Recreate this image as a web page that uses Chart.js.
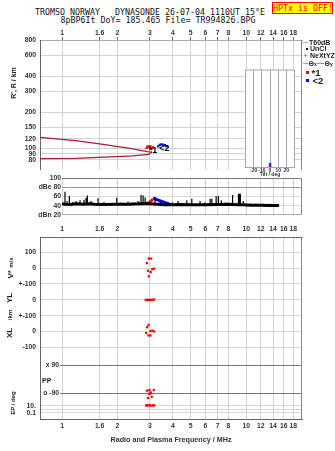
<!DOCTYPE html>
<html>
<head>
<meta charset="utf-8">
<script src="https://cdn.jsdelivr.net/npm/chart.js@4.4.1/dist/chart.umd.min.js"></script>
<style>
body { margin: 0; background: #fff; }
#page { position: relative; width: 335px; height: 451px; overflow: hidden; font-family: 'Liberation Sans', Arial, sans-serif; color: #222; }
canvas { position: absolute; }
.t { position: absolute; white-space: pre; line-height: 1; }
.mono { font-family: 'DejaVu Sans Mono', monospace; font-size: 8.3px; color: #111; }
.lg { font-size: 7px; font-weight: bold; }
.rot { position: absolute; white-space: nowrap; line-height: 1; font-weight: bold; transform: translate(-50%, -50%) rotate(-90deg); }
.box { position: absolute; }
</style>
</head>
<body>
<div id="page">
  <div class="t mono" style="left:0;width:300px;text-align:center;top:8.2px">TROMSO NORWAY   DYNASONDE 26-07-04 1110UT 15°E</div>
  <div class="t mono" style="left:0;width:316px;text-align:center;top:15.8px">8pBP6It DoY= 185.465 File= TR994826.BPG</div>
  <div class="t mono" style="left:272px;top:2px;width:59px;height:10px;background:#ffff00;border:1px solid #ff0000;color:#ff0000;text-align:center;line-height:10px">HPTx is OFF!</div>

  <canvas id="cTop" width="335" height="178" style="left:0;top:0"></canvas>
  <canvas id="cAmp" width="335" height="50" style="left:0;top:170px"></canvas>
  <canvas id="cLow" width="335" height="231" style="left:0;top:220px"></canvas>
  <canvas id="cTilt" width="60" height="114" style="left:240px;top:64px"></canvas>

  <!-- legend -->
  <div class="box" style="left:303px;top:42px;width:5px;height:1px;background:#aaa"></div>
  <div class="t lg" style="left:309px;top:38.6px">T60dB</div>
  <div class="box" style="left:306px;top:48px;width:1.5px;height:1.5px;background:#000"></div>
  <div class="t lg" style="left:310px;top:45.2px">UnCl</div>
  <div class="t lg" style="left:303.5px;top:52px;color:#e0709a">+</div>
  <div class="t lg" style="left:310px;top:52.2px">NeXtYZ</div>
  <div class="box" style="left:303px;top:63px;width:5px;height:1px;background:#f08a8a"></div>
  <div class="t lg" style="left:308.5px;top:59.6px">Θ<span style="font-size:5px">x</span></div>
  <div class="box" style="left:315px;top:63px;width:9px;height:1px;background:#9090e0"></div>
  <div class="t lg" style="left:324.5px;top:59.6px">Θ<span style="font-size:5px">y</span></div>
  <div class="box" style="left:306px;top:71px;width:3px;height:3px;background:#ff0000"></div>
  <div class="t" style="left:311.5px;top:68px;font-size:9.5px;font-weight:bold">*1</div>
  <div class="box" style="left:306px;top:79px;width:3px;height:3px;background:#0000ff"></div>
  <div class="t" style="left:312.5px;top:76px;font-size:9.5px;font-weight:bold">&lt;2</div>

  <!-- axis titles -->
  <div class="rot" style="left:13px;top:83px;font-size:7px">R', R / km</div>
  <div class="rot" style="left:11px;top:267.5px;font-size:8px">V* <span style="font-size:6px">m/s</span></div>
  <div class="rot" style="left:10px;top:298px;font-size:8px">YL</div>
  <div class="rot" style="left:10px;top:315px;font-size:6px">/km</div>
  <div class="rot" style="left:10px;top:333px;font-size:8px">XL</div>
  <div class="rot" style="left:12.5px;top:402.5px;font-size:6px">EP / deg</div>
  <div class="t" style="left:42px;top:376.5px;font-size:7px;font-weight:bold">PP</div>
</div>

<script>
// frequency axis, shared by all panels
var freqTicks = [1, 1.6, 2, 3, 4, 5, 6, 7, 8, 10, 12, 14, 16, 18];

// R', R panel
var heightTicks = [80, 90, 100, 120, 150, 200, 300, 400, 600, 800];
var upperF = [0.76, 1.18, 1.6, 2.34, 2.9, 3.08];
var upperH = [123.5, 116, 109, 100, 94, 93];
var lowerF = [0.76, 1.18, 1.82, 2.43, 2.95, 3.08];
var lowerH = [82, 82.5, 85, 86.5, 89, 93];
var echo1F = [2.88, 2.92, 2.97, 3.02, 3.07, 3.11];
var echo1H = [101, 104, 103, 104, 100, 102];
var echo2F = [3.33, 3.4, 3.47, 3.55, 3.62, 3.7];
var echo2H = [104, 107, 108, 107, 106, 104];

// tilt inset
var tiltTicks = [-30, -20, -10, 0, 10, 20, 30];
var tilt1 = [-0.6];
var tilt2 = [0.6];

// amplitude panel
var ampTicks = [20, 40, 60, 80, 100];
var ampLabels = ['dBn 20', '40', '60', 'dBe 80', '100'];
var noiseF = [1.0, 1.04, 1.1, 1.2, 1.3, 1.4, 1.5, 1.7, 2.0, 2.3, 2.6, 2.8, 3.0, 3.3, 3.6, 4.0, 4.5, 5.0, 6.0, 7.0, 8.0, 9.0, 9.7, 10.5, 12.0, 13.5, 15.1];
var noiseDb = [44, 43, 42.5, 44, 43, 44, 43, 42.5, 43, 43, 44, 45, 44, 43, 42, 42, 42.5, 42, 42, 42.5, 43, 42, 42, 41, 41, 40.5, 40.5];
var spikeF = [1.038, 1.065, 1.096, 1.147, 1.191, 1.253, 1.317, 1.351, 1.373, 1.437, 1.569, 1.691, 1.983, 2.09, 2.283, 2.43, 2.59, 2.687, 2.757, 2.828, 3.2, 3.41, 3.96, 4.27, 4.76, 5.07, 5.62, 5.98, 6.37, 6.51, 6.87, 7.07, 7.33, 7.79, 8.44, 9.08, 9.18, 9.3, 9.65, 10.5, 11.3, 12.3, 13.5];
var spikeDb = [70, 50, 61, 48, 50, 52, 53, 57, 62, 50, 56, 48, 57, 47, 49, 47, 50, 63, 62, 58, 59, 50, 47, 50, 52, 55, 50, 47, 55, 55, 61, 61, 52, 47, 63, 66, 66, 66, 50, 45, 45, 44, 44];
var spikeBase = 42;
var amp1F = [2.86, 2.93, 3.0, 3.06, 3.12];
var amp1Db = [46, 45, 48, 51, 54];
var amp2F = [3.13, 3.22, 3.33, 3.45, 3.6, 3.75, 3.88];
var amp2Db = [57, 54, 52, 50, 47, 45, 42];

// lower panels: V* (m/s), YL, XL (km), PP (deg), EP (deg)
var vStarF = [2.96, 3.05, 2.89, 2.93, 3.09, 3.16, 3.03, 2.96];
var vStar = [60, 60, 31, -17, -7, -4, -25, -52];
var ylF = [2.85, 2.9, 2.95, 3.0, 3.05, 3.1, 3.17];
var yl = [0, -2, 0, -2, 0, -1, 2];
var xlF = [2.95, 2.9, 3.02, 3.1, 3.16, 2.86, 2.95, 3.02];
var xl = [42, 27, 3, 4, 0, -10, -25, -25];
var ppF = [2.89, 2.98, 3.03, 3.15, 2.97, 3.03, 3.07, 2.93];
var pp = [-75, -71, -86, -71, -96, -92, -114, -122];
var epF = [2.86, 2.9, 2.95, 3.0, 3.06, 3.12, 3.17];
var ep = [12, 12, 13, 11, 11, 12, 13];

// the lower rows share one vertical axis, 1 unit = 100 m/s or 100 km
function rowV(v) { return 4 + v / 100; }
function rowYL(v) { return 2 + v / 100; }
function rowXL(v) { return v / 100; }
function rowPP(d) { return -2.99 + d / 90 * 0.89; }
function rowEP(e) { return -4.68 + (Math.log10(e) - 1) * 0.23; }
var lowTicks = [rowV(100), rowV(0), rowV(-100), rowYL(0), rowYL(-100), rowXL(0), rowXL(-100), rowEP(10), rowEP(1), rowEP(0.1)];
var lowLabels = ['100', '0', '+-100', '0', '+-100', '0', '-100', '10.', '', '0.1'];
var ppRows = [{ deg: 90, text: 'x 90' }, { deg: -90, text: 'o -90' }];

var FONT = "'Liberation Sans', Arial, sans-serif";
Chart.defaults.font.family = FONT;
Chart.defaults.font.size = 6.8;
Chart.defaults.font.weight = 'bold';
Chart.defaults.color = '#333';
Chart.defaults.animation = false;
Chart.defaults.responsive = false;
Chart.defaults.devicePixelRatio = 1;
Chart.defaults.plugins.legend.display = false;
Chart.defaults.plugins.tooltip.enabled = false;

function pts(xs, ys, map) {
	return xs.map(function (x, i) { return { x: x, y: map ? map(ys[i]) : ys[i] }; });
}

var edgePlugin = {
	id: 'edges',
	afterDatasetsDraw: function (chart, args, opts) {
		var a = chart.chartArea, ctx = chart.ctx;
		ctx.save();
		ctx.lineWidth = 1;
		ctx.strokeStyle = opts.color || '#888';
		(opts.sides || []).forEach(function (side) {
			ctx.beginPath();
			if (side === 'right') { ctx.moveTo(a.right - 0.5, a.top); ctx.lineTo(a.right - 0.5, a.bottom); }
			if (side === 'top') { ctx.moveTo(a.left, a.top + 0.5); ctx.lineTo(a.right, a.top + 0.5); }
			if (side === 'bottom') { ctx.moveTo(a.left, a.bottom - 0.5); ctx.lineTo(a.right, a.bottom - 0.5); }
			ctx.stroke();
		});
		ctx.restore();
	}
};

var paperPlugin = {
	id: 'paper',
	beforeDraw: function (chart) {
		var a = chart.chartArea, ctx = chart.ctx;
		ctx.save();
		ctx.fillStyle = '#fff';
		ctx.fillRect(a.left, a.top, a.right - a.left, chart.height - a.top);
		ctx.restore();
	}
};

var tagPlugin = {
	id: 'tags',
	afterDatasetsDraw: function (chart, args, opts) {
		var ctx = chart.ctx, sx = chart.scales.x, sy = chart.scales.y;
		ctx.save();
		ctx.font = 'bold 9px ' + FONT;
		ctx.fillStyle = '#000';
		ctx.textAlign = 'center';
		ctx.textBaseline = 'middle';
		opts.items.forEach(function (t) {
			ctx.fillText(t.text, sx.getPixelForValue(t.f), sy.getPixelForValue(t.h));
		});
		ctx.restore();
	}
};

var ppPlugin = {
	id: 'ppRows',
	beforeDatasetsDraw: function (chart, args, opts) {
		var a = chart.chartArea, ctx = chart.ctx, sy = chart.scales.y;
		ctx.save();
		ctx.strokeStyle = '#777';
		ctx.fillStyle = '#333';
		ctx.lineWidth = 1;
		ctx.font = 'bold 6.8px ' + FONT;
		ctx.textAlign = 'right';
		ctx.textBaseline = 'middle';
		opts.rows.forEach(function (r) {
			var py = Math.round(sy.getPixelForValue(rowPP(r.deg))) + 0.5;
			ctx.beginPath();
			ctx.moveTo(a.left + 20, py);
			ctx.lineTo(a.right, py);
			ctx.stroke();
			ctx.fillText(r.text, a.left + 19, py);
		});
		ctx.restore();
	}
};

function setFreqTicks(s) { s.ticks = freqTicks.map(function (v) { return { value: v }; }); }
function freqLabel(v) { return String(v); }

// ---- R', R panel ----
new Chart(document.getElementById('cTop'), {
	type: 'scatter',
	data: {
		datasets: [
			{ data: pts(upperF, upperH), showLine: true, borderColor: '#b0183c', borderWidth: 1.2, pointRadius: 0 },
			{ data: pts(lowerF, lowerH), showLine: true, borderColor: '#b0183c', borderWidth: 1.2, pointRadius: 0 },
			{ data: pts(echo1F, echo1H), pointStyle: 'rect', pointRadius: 1.6, backgroundColor: '#ff0000', borderWidth: 0 },
			{ data: pts(echo2F, echo2H), pointStyle: 'rect', pointRadius: 1.6, backgroundColor: '#0000ff', borderWidth: 0 }
		]
	},
	options: {
		layout: { padding: { left: 0, right: 33, top: 0, bottom: 0 } },
		scales: {
			x: {
				type: 'logarithmic', position: 'top', min: 0.759, max: 20.1,
				afterBuildTicks: setFreqTicks,
				afterFit: function (s) { s.height = 40; },
				ticks: { autoSkip: false, maxRotation: 0, padding: 0, callback: freqLabel },
				grid: { color: '#d2d2d2', tickColor: '#666', tickLength: 3 },
				border: { color: '#aaa' }
			},
			y: {
				type: 'logarithmic', min: 66, max: 805,
				afterBuildTicks: function (s) { s.ticks = heightTicks.map(function (v) { return { value: v }; }); },
				afterFit: function (s) { s.width = 40; },
				ticks: { autoSkip: false, padding: 4, callback: function (v) { return String(v); } },
				grid: { color: '#d2d2d2', drawTicks: false },
				border: { color: '#666' }
			}
		},
		plugins: {
			edges: { sides: ['right'], color: '#888' },
			tags: { items: [{ text: '*1', f: 3.12, h: 95.6 }, { text: '<2', f: 3.59, h: 99.5 }] }
		}
	},
	plugins: [edgePlugin, tagPlugin]
});

// ---- tilt inset ----
new Chart(document.getElementById('cTilt'), {
	type: 'scatter',
	data: {
		datasets: [
			{ data: pts(tilt1, [0.03]), pointStyle: 'line', rotation: 90, pointRadius: 2, borderColor: '#ff0000', borderWidth: 1.5 },
			{ data: pts(tilt2, [0.03]), pointStyle: 'line', rotation: 90, pointRadius: 2, borderColor: '#0000ff', borderWidth: 1.5 }
		]
	},
	options: {
		layout: { padding: { left: 2, right: 3, top: 2, bottom: 0 } },
		scales: {
			x: {
				type: 'linear', min: -30, max: 30,
				afterBuildTicks: function (s) { s.ticks = tiltTicks.map(function (v) { return { value: v }; }); },
				afterFit: function (s) { s.height = 10; },
				ticks: { autoSkip: false, maxRotation: 0, padding: 0, font: { size: 5 }, callback: function (v) { return Math.abs(v) === 30 ? '' : String(v); } },
				grid: { color: '#a4a4bc', drawTicks: false },
				border: { display: false },
				title: { display: true, text: 'Tilt / deg', font: { size: 5 }, padding: 0 }
			},
			y: { display: false, min: 0, max: 1 }
		},
		plugins: { edges: { sides: ['top', 'bottom'], color: '#a4a4bc' } }
	},
	plugins: [paperPlugin, edgePlugin]
});

// ---- amplitude panel ----
var spikeData = [];
spikeF.forEach(function (f, i) {
	spikeData.push({ x: f, y: spikeBase }, { x: f, y: spikeDb[i] }, { x: f, y: null });
});
var ampGridColors = { 20: '#a8a8d8', 40: '#dcdcdc', 60: '#dcdcdc', 80: '#999', 100: '#777' };

new Chart(document.getElementById('cAmp'), {
	type: 'scatter',
	data: {
		datasets: [
			{ data: spikeData, showLine: true, spanGaps: false, borderColor: '#000', borderWidth: 1.2, pointRadius: 0 },
			{ data: pts(noiseF, noiseDb), showLine: true, borderColor: '#000', borderWidth: 3, pointRadius: 0 },
			{ data: pts(amp1F, amp1Db), showLine: true, borderColor: '#ff0000', borderWidth: 3, pointRadius: 0 },
			{ data: pts(amp2F, amp2Db), showLine: true, borderColor: '#0000ff', borderWidth: 3, pointRadius: 0 }
		]
	},
	options: {
		layout: { padding: { left: 0, right: 33, top: 8, bottom: 2 } },
		scales: {
			x: {
				type: 'logarithmic', min: 1, max: 20.1,
				afterBuildTicks: setFreqTicks,
				afterFit: function (s) { s.height = 0; },
				ticks: { display: false },
				grid: { color: '#d2d2d2', drawTicks: false },
				border: { display: false }
			},
			y: {
				min: 20, max: 100,
				afterBuildTicks: function (s) { s.ticks = ampTicks.map(function (v) { return { value: v }; }); },
				afterFit: function (s) { s.width = 62; },
				ticks: { autoSkip: false, padding: 1, callback: function (v, i) { return ampLabels[i]; } },
				grid: { drawTicks: false, color: function (c) { return ampGridColors[c.tick.value] || '#ddd'; } },
				border: { display: false }
			}
		},
		plugins: { edges: { sides: ['right'], color: '#888' } }
	},
	plugins: [edgePlugin]
});

// ---- V*, YL, XL, PP, EP panels ----
new Chart(document.getElementById('cLow'), {
	type: 'scatter',
	data: {
		datasets: [
			{ data: pts(vStarF, vStar, rowV) },
			{ data: pts(ylF, yl, rowYL) },
			{ data: pts(xlF, xl, rowXL) },
			{ data: pts(ppF, pp, rowPP) },
			{ data: pts(epF, ep, rowEP) }
		].map(function (d) {
			d.pointStyle = 'rect';
			d.pointRadius = 1.6;
			d.backgroundColor = '#ff0000';
			d.borderWidth = 0;
			return d;
		})
	},
	options: {
		layout: { padding: { left: 0, right: 33, top: 0, bottom: 0 } },
		scales: {
			x: {
				type: 'logarithmic', position: 'bottom', min: 0.759, max: 20.1,
				afterBuildTicks: setFreqTicks,
				afterFit: function (s) { s.height = 32; },
				ticks: { autoSkip: false, maxRotation: 0, padding: 3, callback: freqLabel },
				grid: { color: '#d2d2d2', drawTicks: false },
				border: { color: '#666' },
				title: { display: true, text: 'Radio and Plasma Frequency / MHz', font: { size: 7.2 }, padding: { top: 0, bottom: 7 } }
			},
			x2: {
				type: 'logarithmic', axis: 'x', position: 'top', min: 0.759, max: 20.1,
				afterBuildTicks: setFreqTicks,
				afterFit: function (s) { s.height = 17; },
				ticks: { autoSkip: false, maxRotation: 0, padding: 4, callback: freqLabel },
				grid: { drawOnChartArea: false, drawTicks: false },
				border: { color: '#666' }
			},
			y: {
				min: -5.52, max: 5.96,
				afterBuildTicks: function (s) { s.ticks = lowTicks.map(function (v) { return { value: v }; }); },
				afterFit: function (s) { s.width = 40; },
				ticks: { autoSkip: false, padding: 4, callback: function (v, i) { return lowLabels[i]; } },
				grid: { color: '#d6d6d6', drawTicks: false },
				border: { color: '#666' }
			}
		},
		plugins: {
			edges: { sides: ['right'], color: '#888' },
			ppRows: { rows: ppRows }
		}
	},
	plugins: [edgePlugin, ppPlugin]
});
</script>
</body>
</html>
